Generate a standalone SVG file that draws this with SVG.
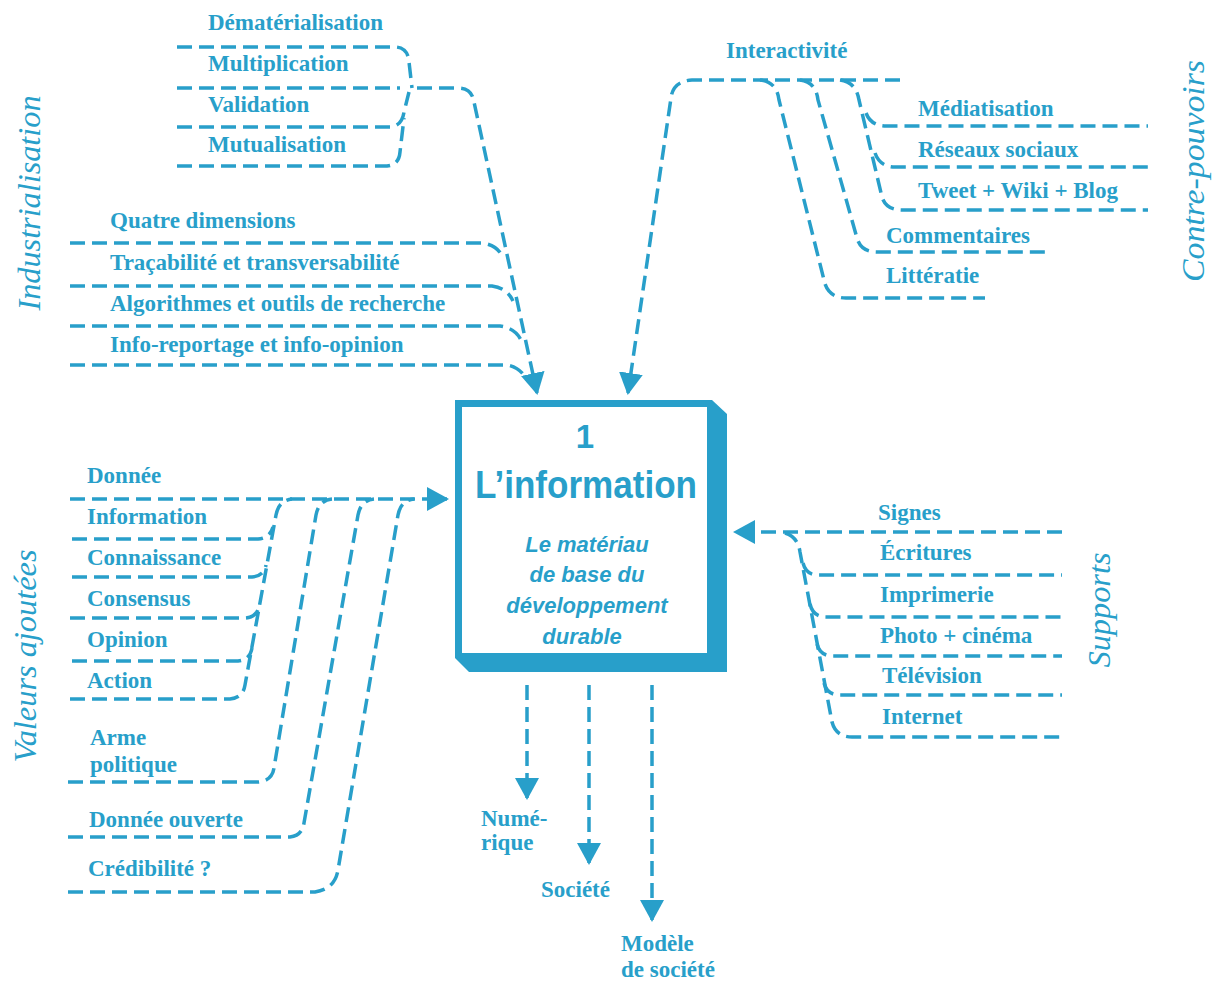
<svg xmlns="http://www.w3.org/2000/svg" width="1217" height="981" viewBox="0 0 1217 981">
<defs>
<style>
.c{fill:none;stroke:#289fca;stroke-width:3.5;stroke-dasharray:15 7;stroke-linecap:butt}
.t{font-family:"Liberation Serif","Times New Roman",serif;font-weight:bold;font-size:23px;fill:#289fca}
.s{font-family:"Liberation Serif","Times New Roman",serif;font-style:italic;font-size:32px;fill:#289fca}
.b{font-family:"Liberation Sans",Arial,sans-serif;font-weight:bold;fill:#289fca;text-anchor:middle}
.bi{font-family:"Liberation Sans",Arial,sans-serif;font-weight:bold;font-style:italic;font-size:22px;fill:#289fca;text-anchor:middle}
</style>
<marker id="ah" viewBox="0 0 22 24" refX="20" refY="12" markerWidth="22" markerHeight="24" markerUnits="userSpaceOnUse" orient="auto" preserveAspectRatio="none">
<path d="M0,0 L22,12 L0,24 z" fill="#289fca"/>
</marker>
</defs>
<rect width="1217" height="981" fill="#ffffff"/>

<g id="connectors">
<!-- top-left cluster -->
<path class="c" d="M177,47 H396 Q408,48 409,62 L412,88"/>
<path class="c" d="M177,88 H400"/>
<path class="c" d="M177,127 H390 Q402,126 404,112 L409,92"/>
<path class="c" d="M177,166 H387 Q399,165 400,152 L404,118"/>
<path class="c" d="M417,88 H458 Q472,88 474,102 L537,393" marker-end="url(#ah)"/>
<path class="c" d="M70,243 H482 Q498,245 503,258"/>
<path class="c" d="M70,286 H492 Q507,288 513,301"/>
<path class="c" d="M70,326 H500 Q515,328 521,340"/>
<path class="c" d="M70,365 H507 Q520,367 527,380"/>
<!-- top-right cluster -->
<path class="c" d="M900,80 H692 Q673,81 671,98 L628,393" marker-end="url(#ah)"/>
<path class="c" d="M760,80 Q777,82 779,100 L825,284 Q830,298 846,298 H985"/>
<path class="c" d="M800,80 Q816,82 818,100 L857,238 Q861,252 877,252 H1050"/>
<path class="c" d="M840,80 Q856,82 859,100 L882,197 Q886,210 902,210 H1148"/>
<path class="c" d="M866,113 Q871,126 886,126 H1148"/>
<path class="c" d="M875,153 Q880,167 895,167 H1148"/>
<!-- left cluster -->
<path class="c" d="M70,499 H447" marker-end="url(#ah)"/>
<path class="c" d="M70,699 H230 Q243,698 245,685 L276,515 Q279,500 292,499"/>
<path class="c" d="M72,539 H258 Q270,538 273,527"/>
<path class="c" d="M72,577 H252 Q264,576 266,565"/>
<path class="c" d="M70,618 H246 Q257,617 259,606"/>
<path class="c" d="M72,661 H238 Q250,660 252,648"/>
<path class="c" d="M68,782 H258 Q272,781 274,768 L316,515 Q319,500 332,499"/>
<path class="c" d="M68,837 H290 Q302,836 304,823 L358,515 Q361,500 374,499"/>
<path class="c" d="M68,892 H315 Q335,889 338,870 L398,515 Q401,500 414,499"/>
<!-- right cluster -->
<path class="c" d="M1062,532 H735" marker-end="url(#ah)"/>
<path class="c" d="M785,533 Q798,537 800,552 L832,722 Q836,737 852,737 H1062"/>
<path class="c" d="M803,563 Q806,575 818,575 H1062"/>
<path class="c" d="M810,604 Q813,617 826,617 H1062"/>
<path class="c" d="M817,644 Q820,656 833,656 H1062"/>
<path class="c" d="M824,683 Q827,695 840,695 H1062"/>
<!-- bottom arrows -->
<path class="c" d="M527,685 V798" marker-end="url(#ah)"/>
<path class="c" d="M589,685 V863" marker-end="url(#ah)"/>
<path class="c" d="M652,685 V920" marker-end="url(#ah)"/>
</g>

<g id="node-information">
<path d="M455,400 H712 L727,414 V672 H469 L455,658 Z" fill="#289fca"/>
<rect x="462" y="407" width="245" height="246" fill="#ffffff"/>
<text class="b" x="585" y="448" font-size="33">1</text>
<text class="b" x="586" y="498" font-size="38" textLength="222" lengthAdjust="spacingAndGlyphs">L’information</text>
<text class="bi" x="587" y="552">Le matériau</text>
<text class="bi" x="587" y="582">de base du</text>
<text class="bi" x="587" y="613">développement</text>
<text class="bi" x="582" y="644">durable</text>
</g>

<g id="title-industrialisation"><text class="s" transform="translate(40,203) rotate(-90)" text-anchor="middle" textLength="215" lengthAdjust="spacingAndGlyphs">Industrialisation</text></g>
<g id="title-contre-pouvoirs"><text class="s" transform="translate(1204,171) rotate(-90)" text-anchor="middle" textLength="222" lengthAdjust="spacingAndGlyphs">Contre-pouvoirs</text></g>
<g id="title-valeurs"><text class="s" transform="translate(36,656) rotate(-90)" text-anchor="middle" textLength="213" lengthAdjust="spacingAndGlyphs">Valeurs ajoutées</text></g>
<g id="title-supports"><text class="s" transform="translate(1110,610) rotate(-90)" text-anchor="middle" textLength="115" lengthAdjust="spacingAndGlyphs">Supports</text></g>

<g id="node-dematerialisation"><text class="t" x="208" y="30">Dématérialisation</text></g>
<g id="node-multiplication"><text class="t" x="208" y="71">Multiplication</text></g>
<g id="node-validation"><text class="t" x="208" y="112">Validation</text></g>
<g id="node-mutualisation"><text class="t" x="208" y="152">Mutualisation</text></g>
<g id="node-quatre"><text class="t" x="110" y="228">Quatre dimensions</text></g>
<g id="node-tracabilite"><text class="t" x="110" y="270">Traçabilité et transversabilité</text></g>
<g id="node-algorithmes"><text class="t" x="110" y="311">Algorithmes et outils de recherche</text></g>
<g id="node-inforeportage"><text class="t" x="110" y="352">Info-reportage et info-opinion</text></g>

<g id="node-interactivite"><text class="t" x="726" y="58">Interactivité</text></g>
<g id="node-mediatisation"><text class="t" x="918" y="116">Médiatisation</text></g>
<g id="node-reseaux"><text class="t" x="918" y="157">Réseaux sociaux</text></g>
<g id="node-tweet"><text class="t" x="918" y="198">Tweet + Wiki + Blog</text></g>
<g id="node-commentaires"><text class="t" x="886" y="243">Commentaires</text></g>
<g id="node-litteratie"><text class="t" x="886" y="283">Littératie</text></g>

<g id="node-donnee"><text class="t" x="87" y="483">Donnée</text></g>
<g id="node-info"><text class="t" x="87" y="524">Information</text></g>
<g id="node-connaissance"><text class="t" x="87" y="565">Connaissance</text></g>
<g id="node-consensus"><text class="t" x="87" y="606">Consensus</text></g>
<g id="node-opinion"><text class="t" x="87" y="647">Opinion</text></g>
<g id="node-action"><text class="t" x="87" y="688">Action</text></g>
<g id="node-arme"><text class="t" x="90" y="745">Arme</text><text class="t" x="90" y="772">politique</text></g>
<g id="node-donnee-ouverte"><text class="t" x="89" y="827">Donnée ouverte</text></g>
<g id="node-credibilite"><text class="t" x="88" y="876">Crédibilité ?</text></g>

<g id="node-signes"><text class="t" x="878" y="520">Signes</text></g>
<g id="node-ecritures"><text class="t" x="880" y="560">Écritures</text></g>
<g id="node-imprimerie"><text class="t" x="880" y="602">Imprimerie</text></g>
<g id="node-photo"><text class="t" x="880" y="643">Photo + cinéma</text></g>
<g id="node-television"><text class="t" x="882" y="683">Télévision</text></g>
<g id="node-internet"><text class="t" x="882" y="724">Internet</text></g>

<g id="node-numerique"><text class="t" x="481" y="826">Numé-</text><text class="t" x="481" y="850">rique</text></g>
<g id="node-societe"><text class="t" x="541" y="897">Société</text></g>
<g id="node-modele"><text class="t" x="621" y="951">Modèle</text><text class="t" x="621" y="977">de société</text></g>
</svg>
